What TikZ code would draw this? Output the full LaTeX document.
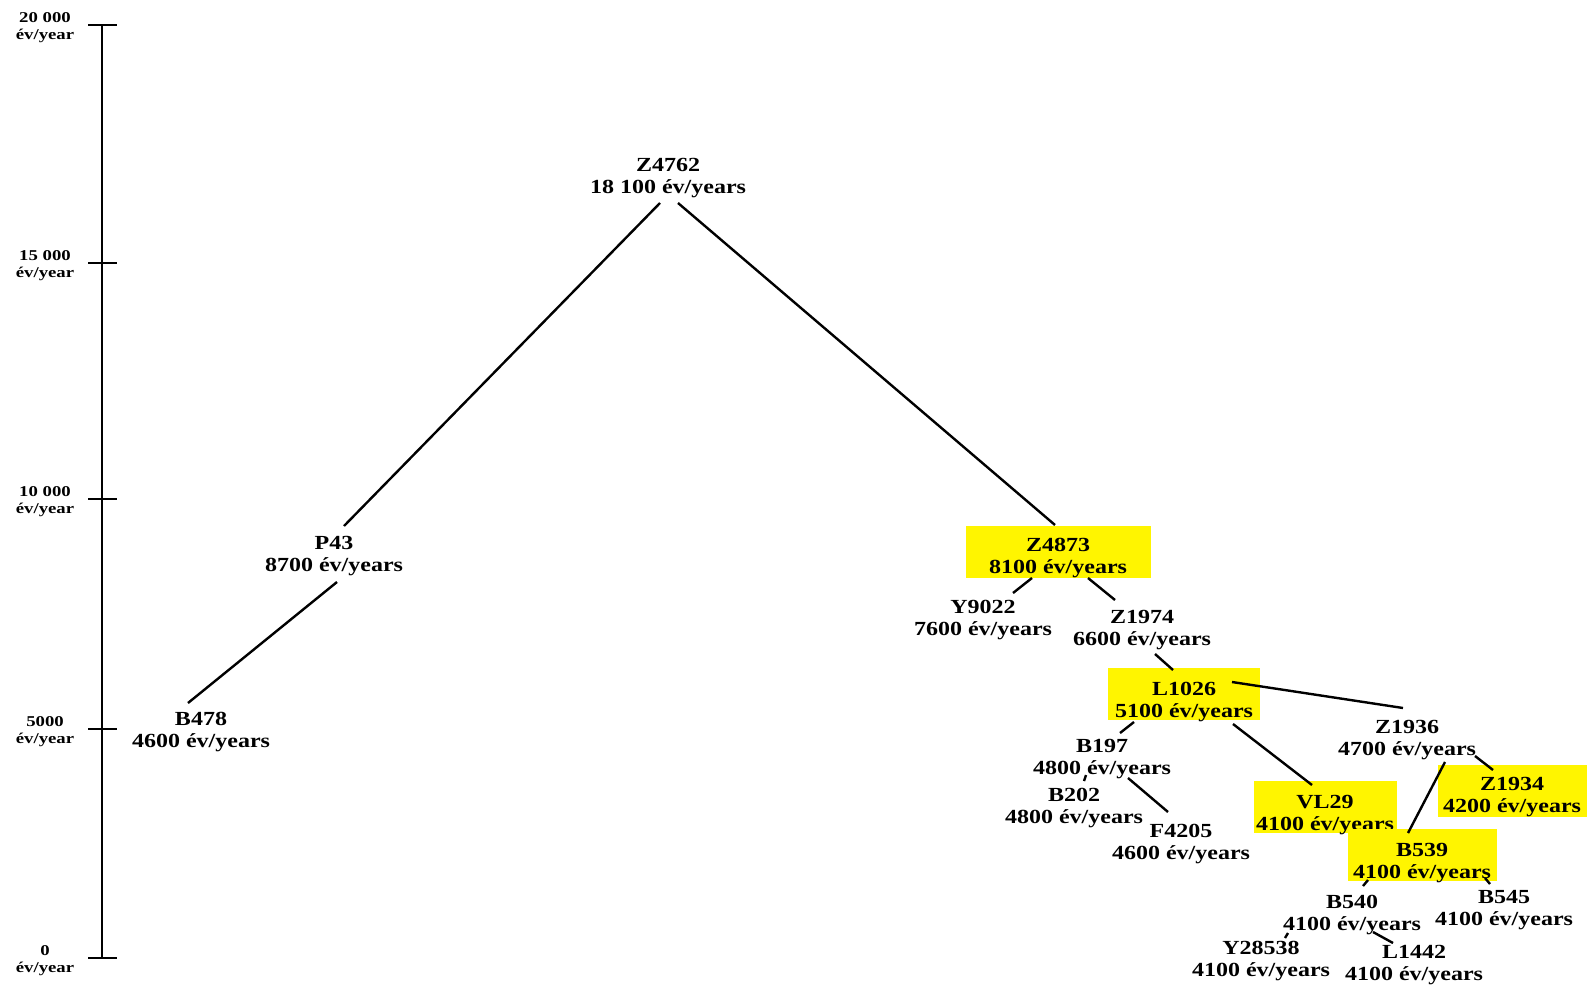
\documentclass[tikz,border=0pt]{standalone}
\usepackage{fontspec}
\setmainfont{Liberation Serif}
\usepackage{graphicx}
\definecolor{hlyellow}{RGB}{255,245,0}
\newcommand{\nlab}[3][1.5pt]{\raisebox{-#1}[\height][\depth]{\scalebox{1.2}[1]{\fontsize{10}{10.8}\selectfont\bfseries\begin{tabular}{@{}c@{}}#2\\#3\end{tabular}}}}
\newcommand{\alab}[2]{\raisebox{-1.5pt}[\height][\depth]{\scalebox{1.25}[1]{\fontsize{7.5}{8.5}\selectfont\bfseries\begin{tabular}{@{}c@{}}#1\\#2\end{tabular}}}}
\begin{document}
\begin{tikzpicture}[x=0.5pt,y=-0.5pt,
  lab/.style={inner sep=0pt},
  hl/.style={fill=hlyellow, inner sep=0pt, minimum height=26pt},
  conn/.style={line width=1.2pt, draw=black},
  axisline/.style={line width=1.4pt, draw=black}]
\useasboundingbox (0,0) rectangle (1588,990);
\fill[white] (0,0) rectangle (1588,990);

% axis
\draw[axisline] (102,25) -- (102,958);
\foreach \yy in {25,263,499,729,958} \draw[axisline] (88,\yy) -- (117,\yy);
\node[lab] (a20) at (45,25) {\alab{20 000}{év/year}};
\node[lab] (a15) at (45,263) {\alab{15 000}{év/year}};
\node[lab] (a10) at (45,499) {\alab{10 000}{év/year}};
\node[lab] (a5) at (45,729) {\alab{5000}{év/year}};
\node[lab] (a0) at (45,958) {\alab{0}{év/year}};

% nodes
\node[lab] (Z4762) at (668,175) {\nlab{Z4762}{18 100 év/years}};
\node[lab] (P43) at (334,553) {\nlab{P43}{8700 év/years}};
\node[lab] (B478) at (201,729) {\nlab{B478}{4600 év/years}};
\node[hl, minimum width=92.5pt] (Z4873) at (1058,552) {\nlab[3pt]{Z4873}{8100 év/years}};
\node[lab] (Y9022) at (983,617) {\nlab{Y9022}{7600 év/years}};
\node[lab] (Z1974) at (1142,627) {\nlab{Z1974}{6600 év/years}};
\node[hl, minimum width=76pt] (L1026) at (1184,694) {\nlab[4pt]{L1026}{5100 év/years}};
\node[lab] (B197) at (1102,756) {\nlab{B197}{4800 év/years}};
\node[lab] (B202) at (1074,805) {\nlab{B202}{4800 év/years}};
\node[lab] (F4205) at (1181,841) {\nlab{F4205}{4600 év/years}};
\node[lab] (Z1936) at (1407,737) {\nlab{Z1936}{4700 év/years}};
\node[hl, minimum width=71.5pt] (VL29) at (1325,807) {\nlab[4pt]{VL29}{4100 év/years}};
\node[hl, minimum width=74.5pt] (Z1934) at (1512,791) {\nlab[3pt]{Z1934}{4200 év/years}};
\node[hl, minimum width=74.5pt] (B539) at (1422,855) {\nlab[4pt]{B539}{4100 év/years}};
\node[lab] (B540) at (1352,912) {\nlab{B540}{4100 év/years}};
\node[lab] (B545) at (1504,907) {\nlab{B545}{4100 év/years}};
\node[lab] (Y28538) at (1261,958) {\nlab{Y28538}{4100 év/years}};
\node[lab] (L1442) at (1414,962) {\nlab{L1442}{4100 év/years}};

% connectors
\draw[conn] ([shift={(-8,28)}]Z4762.center) -- ([shift={(10,-27)}]P43.center);
\draw[conn] ([shift={(10,28)}]Z4762.center) -- ([shift={(-3,-27)}]Z4873.center);
\draw[conn] ([shift={(3,29)}]P43.center) -- ([shift={(-13,-26)}]B478.center);
\draw[conn] ([shift={(-26,26)}]Z4873.center) -- ([shift={(30,-24)}]Y9022.center);
\draw[conn] ([shift={(30,26)}]Z4873.center) -- ([shift={(-27,-27)}]Z1974.center);
\draw[conn] ([shift={(13,27)}]Z1974.center) -- ([shift={(-11,-24)}]L1026.center);
\draw[conn] ([shift={(48,-12)}]L1026.center) -- ([shift={(-4,-29)}]Z1936.center);
\draw[conn] ([shift={(-50,28)}]L1026.center) -- ([shift={(18,-23)}]B197.center);
\draw[conn] ([shift={(49,30)}]L1026.center) -- ([shift={(-13,-22)}]VL29.center);
\draw[conn] ([shift={(-16,19)}]B197.center) -- ([shift={(10,-24)}]B202.center);
\draw[conn] ([shift={(26,22)}]B197.center) -- ([shift={(-13,-29)}]F4205.center);
\draw[conn] ([shift={(68,19)}]Z1936.center) -- ([shift={(-19,-21)}]Z1934.center);
\draw[conn] ([shift={(38,25)}]Z1936.center) -- ([shift={(-14,-22)}]B539.center);
\draw[conn] ([shift={(-54,25)}]B539.center) -- ([shift={(11,-26)}]B540.center);
\draw[conn] ([shift={(63,23)}]B539.center) -- ([shift={(-14,-23)}]B545.center);
\draw[conn] ([shift={(-64,21)}]B540.center) -- ([shift={(24,-20)}]Y28538.center);
\draw[conn] ([shift={(21,20)}]B540.center) -- ([shift={(-21,-19)}]L1442.center);
\end{tikzpicture}
\end{document}
